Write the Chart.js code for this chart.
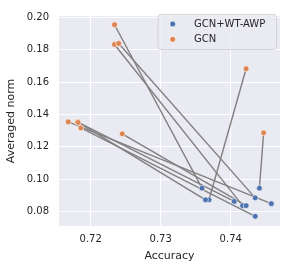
<!DOCTYPE html>
<html>
<head>
<meta charset="utf-8">
<script src="https://cdn.jsdelivr.net/npm/chart.js@4.4.1/dist/chart.umd.min.js"></script>
<style>
    html, body { margin: 0; padding: 0; background: #fff; }
    #wrap { width: 288px; height: 270px; }
</style>
</head>
<body>
<div id="wrap"><canvas id="normChart" width="288" height="270"></canvas></div>
<script>
// values, one pair per run (GCN -> GCN+WT-AWP)
const gcnAccuracy = [0.7234, 0.7234, 0.7240, 0.7422, 0.7447, 0.7168, 0.7245, 0.7181, 0.7186, 0.7182];
const gcnNorm     = [0.1954, 0.1832, 0.1838, 0.1682, 0.1286, 0.1354, 0.1280, 0.1354, 0.1316, 0.1350];
const awpAccuracy = [0.7359, 0.7417, 0.7435, 0.7369, 0.7441, 0.7458, 0.7422, 0.7405, 0.7435, 0.7364];
const awpNorm     = [0.0944, 0.0836, 0.0884, 0.0872, 0.0944, 0.0848, 0.0836, 0.0862, 0.0770, 0.0872];

const xTicks = [0.72, 0.73, 0.74];
const yTicks = [0.08, 0.10, 0.12, 0.14, 0.16, 0.18, 0.20];
const seriesLabels = ['GCN+WT-AWP', 'GCN'];
const seriesColors = ['#4C72B0', '#DD8452'];

const FONT = 'DejaVu Sans';
const TEXT = '#262626';

const toPoints = (xs, ys) => xs.map((x, i) => ({ x: x, y: ys[i] }));

// grey connectors under the markers
const links = gcnAccuracy.map((x, i) => ({
    type: 'scatter',
    label: '',
    data: [{ x: x, y: gcnNorm[i] }, { x: awpAccuracy[i], y: awpNorm[i] }],
    showLine: true,
    borderColor: '#808080',
    borderWidth: 1.4,
    pointRadius: 0,
    order: 3
}));

const markers = [
    { label: seriesLabels[0], data: toPoints(awpAccuracy, awpNorm), backgroundColor: seriesColors[0], order: 1 },
    { label: seriesLabels[1], data: toPoints(gcnAccuracy, gcnNorm), backgroundColor: seriesColors[1], order: 2 }
].map(d => Object.assign(d, { pointRadius: 2.9, pointBorderColor: '#fff', pointBorderWidth: 0.6, borderColor: '#fff', pointHoverRadius: 2.9 }));

const plotBackground = {
    id: 'plotBackground',
    beforeDraw(chart) {
        const { ctx, chartArea: a } = chart;
        ctx.save();
        ctx.fillStyle = '#EAEAF2';
        ctx.fillRect(a.left, a.top, a.right - a.left, a.bottom - a.top);
        ctx.restore();
    }
};

// matplotlib-like legend box in the upper right corner
const boxLegend = {
    id: 'boxLegend',
    afterDraw(chart) {
        const ctx = chart.ctx;
        const x = 158, y = 14.5, w = 118.5, h = 35, r = 3;
        ctx.save();
        ctx.beginPath();
        ctx.roundRect(x, y, w, h, r);
        ctx.fillStyle = 'rgba(234,234,242,0.8)';
        ctx.fill();
        ctx.strokeStyle = '#CCCCCC';
        ctx.lineWidth = 0.8;
        ctx.stroke();
        ctx.font = '10px "' + FONT + '"';
        ctx.textBaseline = 'middle';
        seriesLabels.forEach((label, i) => {
            const cy = 24 + i * 15.3;
            ctx.beginPath();
            ctx.arc(172.7, cy, 2.9, 0, Math.PI * 2);
            ctx.fillStyle = seriesColors[i];
            ctx.fill();
            ctx.strokeStyle = '#fff';
            ctx.lineWidth = 0.6;
            ctx.stroke();
            ctx.fillStyle = TEXT;
            ctx.fillText(label, 194, cy + 0.5);
        });
        ctx.restore();
    }
};

new Chart(document.getElementById('normChart'), {
    type: 'scatter',
    data: { datasets: markers.concat(links) },
    options: {
        responsive: false,
        animation: false,
        devicePixelRatio: 1,
        layout: { padding: { left: 0, right: 8, top: 10, bottom: 0 } },
        plugins: {
            legend: { display: false },
            tooltip: { enabled: false }
        },
        scales: {
            x: {
                type: 'linear',
                min: 0.71547,
                max: 0.74704,
                afterBuildTicks: s => { s.ticks = xTicks.map(v => ({ value: v })); },
                afterFit: s => { s.height = 44; },
                grid: { color: '#fff', lineWidth: 1, drawTicks: false },
                border: { display: false },
                ticks: {
                    padding: 7,
                    color: TEXT,
                    font: { family: FONT, size: 10 },
                    callback: v => v.toFixed(2)
                },
                title: {
                    display: true,
                    text: 'Accuracy',
                    color: TEXT,
                    font: { family: FONT, size: 11 },
                    padding: { top: 0, bottom: 7 }
                }
            },
            y: {
                type: 'linear',
                min: 0.071,
                max: 0.2008,
                afterBuildTicks: s => { s.ticks = yTicks.map(v => ({ value: v })); },
                afterFit: s => { s.width = 59; },
                grid: { color: '#fff', lineWidth: 1, drawTicks: false },
                border: { display: false },
                ticks: {
                    padding: 10,
                    color: TEXT,
                    font: { family: FONT, size: 10 },
                    callback: v => v.toFixed(2)
                },
                title: {
                    display: true,
                    text: 'Averaged norm',
                    color: TEXT,
                    font: { family: FONT, size: 11 },
                    padding: { top: 5, bottom: 0 }
                }
            }
        }
    },
    plugins: [plotBackground, boxLegend]
});
</script>
</body>
</html>
